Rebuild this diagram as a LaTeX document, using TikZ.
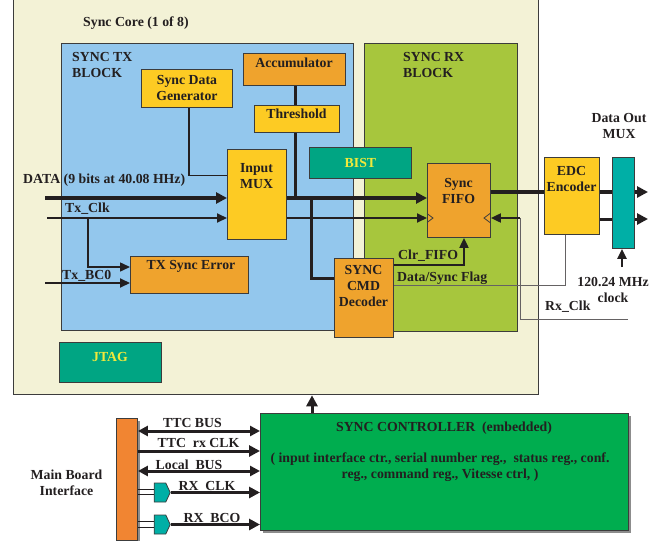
\documentclass[tikz,border=0pt]{standalone}
\usepackage{fontspec}
\setmainfont{Liberation Serif}
\usetikzlibrary{arrows.meta,shapes.symbols,shadows}
\definecolor{cream}{HTML}{F3F2D6}
\definecolor{txblue}{HTML}{93C7ED}
\definecolor{rxgreen}{HTML}{A7C63D}
\definecolor{yel}{HTML}{FDCB23}
\definecolor{org}{HTML}{EFA32D}
\definecolor{bistc}{HTML}{00A583}
\definecolor{muxc}{HTML}{00AFA6}
\definecolor{ctrlc}{HTML}{00AD4F}
\definecolor{barc}{HTML}{F18532}
\definecolor{ytext}{HTML}{F2E93B}
\definecolor{ink}{HTML}{231F20}
\definecolor{edge}{HTML}{3C3C3C}
\begin{document}
\begin{tikzpicture}[x=1pt,y=-1pt,
  font=\fontsize{13.8}{16}\selectfont\bfseries,
  every node/.style={text=ink},
  blk/.style={draw=edge, line width=0.9pt, inner sep=0pt, anchor=north west},
  lbl/.style={inner sep=0pt, align=center},
  lft/.style={inner sep=0pt, anchor=base west},
  bsl/.style={inner sep=0pt, anchor=base},
  wideln/.style={line width=4.5pt, draw=ink},
  medln/.style={line width=3pt, draw=ink},
  thinln/.style={line width=2pt, draw=ink},
  hairln/.style={line width=1pt, draw=ink!70},
  headL/.style={-{Triangle[length=11pt,width=11pt]}},
  headS/.style={-{Triangle[length=10pt,width=9pt]}},
  headD/.style={{Triangle[length=10pt,width=10pt]}-{Triangle[length=10pt,width=10pt]}},
  shad/.style={drop shadow={shadow xshift=2.5pt, shadow yshift=-2.5pt, fill=black!45, opacity=1}},
  bufr/.style={signal, signal to=east, signal pointer angle=130, fill=muxc, draw=edge,
     line width=0.8pt, minimum width=16, minimum height=19, inner sep=0pt},
]
\useasboundingbox (0,0) rectangle (665,541);

% containers
\node[blk, line width=1.3pt, fill=cream, minimum width=525, minimum height=404] (core) at (13,-10) {};
\node[blk, fill=txblue, minimum width=292, minimum height=287] (txb) at (61,43) {};
\node[blk, fill=rxgreen, minimum width=153, minimum height=288] (rxb) at (364,43) {};
\node[lft] (coreT) at (83,26.5) {Sync Core (1 of 8)};
\node[lbl, align=left, anchor=west] (txT) at (72,64.5) {SYNC TX\\BLOCK};
\node[lbl, align=left, anchor=west] (rxT) at (403,64.5) {SYNC RX\\BLOCK};

% blocks
\node[blk, fill=yel, minimum width=91, minimum height=38, align=center] (sdg) at (141,69) {Sync Data\\Generator};
\node[blk, fill=org, minimum width=102, minimum height=32] (acc) at (243,53) {};
\node[lbl] (accT) at (294,62.5) {Accumulator};
\node[blk, fill=yel, minimum width=85, minimum height=27] (thr) at (254,105) {};
\node[lbl] (thrT) at (296.5,113.5) {Threshold};
\node[blk, fill=yel, minimum width=59, minimum height=90] (mux) at (227,149) {};
\node[lbl] (muxT) at (256.5,176.5) {Input\\MUX};
\node[blk, fill=bistc, minimum width=102, minimum height=31, text=ytext] (bist) at (309,147) {BIST};
\node[blk, fill=org, minimum width=63, minimum height=74] (fifo) at (427,163) {};
\node[lbl] (fifoT) at (458.5,191) {Sync\\FIFO};
\node[blk, fill=org, minimum width=118, minimum height=37] (txe) at (130,256) {};
\node[lbl] (txeT) at (191,266.5) {TX Sync Error};
\node[blk, fill=org, minimum width=59, minimum height=79] (dec) at (334,258) {};
\node[lbl] (decT) at (363.5,286) {SYNC\\CMD\\Decoder};
\node[blk, fill=bistc, minimum width=102, minimum height=40] (jtag) at (59,342) {};
\node[lbl, text=ytext] (jtagT) at (110,356.5) {JTAG};
\node[blk, fill=yel, minimum width=55, minimum height=77] (edc) at (544,157) {};
\node[lbl] (edcT) at (571.5,179) {EDC\\Encoder};
\node[blk, fill=muxc, minimum width=22, minimum height=91] (omux) at (612,157) {};
\node[lbl] (omuxT) at (619,125.5) {Data Out\\MUX};
\node[lbl] (clkT) at (613,289.5) {120.24 MHz\\clock};

% clock markers in FIFO
\draw[draw=edge, line width=0.8pt] (427,213.5) -- (433,218) -- (427,222.5);
\draw[draw=edge, line width=0.8pt] (490,213.5) -- (484,218) -- (490,222.5);

% row / column coordinates
\coordinate (yData) at (0,198);
\coordinate (yClk) at (0,218);
\coordinate (dataS) at (45,198);
\coordinate (clkS) at (47,218);
\coordinate (clkB) at (88,218);
\coordinate (bc0S) at (45,283);
\coordinate (yTE) at (0,267);
\coordinate (ySdg) at (0,175.5);
\coordinate (xSdg) at (189,0);
\coordinate (xThr) at (295.5,0);
\coordinate (xBr) at (311,0);
\coordinate (yDec) at (0,278);
\coordinate (yClr) at (0,264.5);
\coordinate (xClr) at (464,0);
\coordinate (yFlag) at (0,285.5);
\coordinate (xFlag) at (565,0);
\coordinate (rxS) at (628,319);
\coordinate (rxC) at (520,218);
\coordinate (yOut1) at (0,192);
\coordinate (yOut2) at (0,219);
\coordinate (o1) at (648,192);
\coordinate (o2) at (648,219);
\coordinate (ckS) at (622,267);

% TX side connectors
\draw[wideln, headL] (dataS) -- (dataS -| mux.west);
\draw[thinln, headS] (clkS) -- (clkS -| mux.west);
\draw[line width=1.5pt, draw=ink, headS] (clkB) |- (txe.west |- yTE);
\draw[thinln, headS] (bc0S) -- (bc0S -| txe.west);
\node[lft] (dataT) at (23,183) {DATA (9 bits at 40.08 HHz)};
\node[lft] (clkL) at (65,212) {Tx\_Clk};
\node[lft] (bc0L) at (62,279) {Tx\_BC0};

\draw[line width=1.5pt, draw=ink] (sdg.south -| xSdg) |- (mux.west |- ySdg);
\draw[line width=2.5pt, draw=ink] (acc.south -| xThr) -- (thr.north -| xThr);
\draw[line width=2.5pt, draw=ink] (thr.south -| xThr) -- (xThr |- yData);
\draw[wideln, headL] (mux.east |- yData) -- (fifo.west |- yData);
\draw[thinln, headS] (mux.east |- yClk) -- (fifo.west |- yClk);
\draw[medln] (xBr |- yData) |- (dec.west |- yDec);

% RX side connectors
\draw[thinln, headS] (dec.east |- yClr) -| (fifo.south -| xClr);
\node[lft] (clrL) at (398,259) {Clr\_FIFO};
\draw[hairln] (dec.east |- yFlag) -| (edc.south -| xFlag);
\node[lft] (flagL) at (397,281.5) {Data/Sync Flag};
\draw[hairln] (rxS) -| (rxC);
\draw[thinln, headS] (rxC) -- (fifo.east |- rxC);
\node[lft] (rxL) at (545,310.5) {Rx\_Clk};

\draw[wideln] (fifo.east |- yOut1) -- (edc.west |- yOut1);
\draw[wideln] (edc.east |- yOut1) -- (omux.west |- yOut1);
\draw[medln] (edc.east |- yOut2) -- (omux.west |- yOut2);
\draw[wideln, headL] (omux.east |- o1) -- (o1);
\draw[medln, headL] (omux.east |- o2) -- (o2);
\draw[line width=2.5pt, draw=ink, headS] (ckS) -- (ckS |- omux.south);

% bottom part
\node[blk, shad, fill=ctrlc, minimum width=368, minimum height=117] (ctrl) at (260,413) {};
\node[lbl] (ctrlT1) at (444,428) {SYNC CONTROLLER\ \ (embedded)};
\node[lbl] (ctrlT2) at (440,467.5) {( input interface ctr., serial number reg.,\ \ status reg., conf.\\reg., command reg., Vitesse ctrl, )};
\node[blk, shad, fill=barc, minimum width=21, minimum height=122] (bar) at (116,418) {};
\node[lbl] (mbiT) at (66.5,482.5) {Main Board\\Interface};

\coordinate (xUp) at (312,0);
\draw[medln, headL] (ctrl.north -| xUp) -- (core.south -| xUp);

\coordinate (yTTC) at (0,431);
\coordinate (yRxc) at (0,451);
\coordinate (yLoc) at (0,471);
\coordinate (yB1a) at (0,489);
\coordinate (yB1b) at (0,494.5);
\coordinate (yB2a) at (0,521.5);
\coordinate (yB2b) at (0,527);
\draw[medln, headD] (bar.east |- yTTC) -- (ctrl.west |- yTTC);
\draw[medln, headL] (bar.east |- yRxc) -- (ctrl.west |- yRxc);
\draw[medln, headD] (bar.east |- yLoc) -- (ctrl.west |- yLoc);
\node[bufr] (buf1) at (160,492.5) {};
\node[bufr] (buf2) at (160,524.5) {};
\draw[line width=0.9pt, draw=ink] (bar.east |- yB1a) -- (buf1.west |- yB1a);
\draw[line width=0.9pt, draw=ink] (bar.east |- yB1b) -- (buf1.west |- yB1b);
\draw[line width=0.9pt, draw=ink] (bar.east |- yB2a) -- (buf2.west |- yB2a);
\draw[line width=0.9pt, draw=ink] (bar.east |- yB2b) -- (buf2.west |- yB2b);
\draw[medln, headL] (buf1.east) -- (buf1.east -| ctrl.west);
\draw[medln, headL] (buf2.east) -- (buf2.east -| ctrl.west);
\node[bsl] (ttcL) at (192.5,427) {TTC BUS};
\node[bsl] (rxcL) at (198.5,447.5) {TTC\ \ rx CLK};
\node[bsl] (locL) at (189,469) {Local\ \ BUS};
\node[bsl] (rxclkL) at (207,490) {RX\ \ CLK};
\node[bsl] (rxbcL) at (212,522.5) {RX\ \ BCO};
\end{tikzpicture}
\end{document}
